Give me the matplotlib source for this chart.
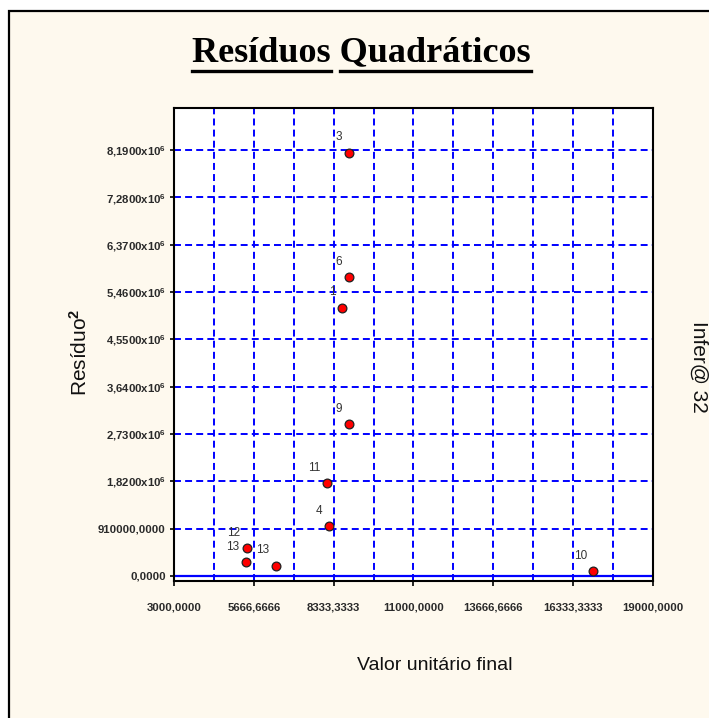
import matplotlib
matplotlib.use("Agg")
import numpy as np
import matplotlib.pyplot as plt
from matplotlib.patches import Rectangle
from matplotlib.lines import Line2D

plt.rcParams['font.family'] = ['Liberation Sans', 'DejaVu Sans']
plt.rcParams['mathtext.fontset'] = 'custom'
plt.rcParams['mathtext.rm'] = 'Liberation Sans:bold'
plt.rcParams['mathtext.it'] = 'Liberation Sans:italic'
plt.rcParams['mathtext.bf'] = 'Liberation Sans:bold'
plt.rcParams['lines.scale_dashes'] = False

# ---------------- data ----------------
point_labels = ["3", "6", "1", "9", "11", "4", "12", "13", "13", "10"]
valor_unitario = [8845, 8845, 8601, 8845, 8100, 8177, 5428, 5405, 6397, 17006]
residuo2 = [8.138e6, 5.741e6, 5.156e6, 2.918e6, 1.778e6, 0.956e6,
            0.527e6, 0.258e6, 0.192e6, 0.090e6]

x_ticks = [3000, 5666.6666, 8333.3333, 11000, 13666.6666, 16333.3333, 19000]
x_tick_labels = ["3000,0000", "5666,6666", "8333,3333", "11000,0000",
                 "13666,6666", "16333,3333", "19000,0000"]
y_ticks = [0, 910000, 1820000, 2730000, 3640000, 4550000,
           5460000, 6370000, 7280000, 8190000]
y_tick_labels = ["0,0000", "910000,0000",
                 r"1,8200x10$^{6}$", r"2,7300x10$^{6}$", r"3,6400x10$^{6}$",
                 r"4,5500x10$^{6}$", r"5,4600x10$^{6}$", r"6,3700x10$^{6}$",
                 r"7,2800x10$^{6}$", r"8,1900x10$^{6}$"]

title_words = ["Resíduos", "Quadráticos"]
x_label = "Valor unitário final"
y_label = r"Resíduo$^{2}$"
side_text = "Infer@ 32"

# ---------------- figure ----------------
W, H = 709, 718
fig = plt.figure(figsize=(W / 100, H / 100), dpi=100)
fig.patch.set_facecolor('white')
cream = '#FEF9EE'
fig.patches.append(Rectangle((9 / W, -0.2), 1.5, 1.2 - 11 / H,
                             transform=fig.transFigure, facecolor=cream,
                             edgecolor='black', lw=1.6, zorder=-10))

ax = fig.add_axes([174 / W, 1 - 581 / H, 479 / W, 473 / H])
ax.set_zorder(5)
ax.set_facecolor('white')
ax.set_xlim(3000, 19000)
ax.set_ylim(-0.1e6, 9.0e6)

blue = '#0000FF'
dash = (0, (5, 3))
xt = np.array(x_ticks)
x_grid = np.sort(np.concatenate([xt[1:-1], (xt[:-1] + xt[1:]) / 2]))
for xv in x_grid:
    ax.axvline(xv, color=blue, lw=1.4, ls=dash, zorder=1)
for yv in y_ticks[1:]:
    ax.axhline(yv, color=blue, lw=1.4, ls=dash, zorder=1)
ax.axhline(0, color=blue, lw=1.6, zorder=2)

ax.plot(valor_unitario, residuo2, 'o', ms=6.3, mfc='red', mec='#202020',
        mew=0.9, zorder=5)
for lbl, xv, yv in zip(point_labels, valor_unitario, residuo2):
    ax.annotate(lbl, (xv, yv), xytext=(-6.5, 15.5), textcoords='offset pixels',
                ha='right', va='center', fontsize=8.5, color='#333333', zorder=6)

for s in ax.spines.values():
    s.set_linewidth(1.5)
    s.set_color('black')

ax.set_xticks(x_ticks)
ax.set_xticklabels(x_tick_labels, fontsize=8.2, fontweight='bold', color='#2a2a2a')
ax.set_yticks(y_ticks)
ax.set_yticklabels(y_tick_labels, fontsize=8.2, fontweight='bold', color='#2a2a2a')
ax.tick_params(axis='x', direction='out', length=3.6, width=1.2, pad=12)
ax.tick_params(axis='y', direction='out', length=2.9, width=1.2, pad=3)

# axis labels and side text
fig.text(435 / W, 1 - 665 / H, x_label, ha='center', va='center',
         fontsize=14, color='#111111')
fig.text(80 / W, 1 - 352 / H, y_label, ha='center', va='center',
         rotation=90, fontsize=15, color='#111111')
fig.text(699 / W, 1 - 367 / H, side_text, ha='center', va='center',
         rotation=270, fontsize=15, color='#111111')

# title with underlined words
tprops = dict(fontfamily='Liberation Serif', fontweight='bold', fontsize=26,
              color='black', va='baseline')
full = " ".join(title_words)
t_full = fig.text(361.5 / W, 1 - 61 / H, full, ha='center', **tprops)
fig.canvas.draw()
r = fig.canvas.get_renderer()
bb = t_full.get_window_extent(r)
tmp1 = fig.text(0, 0, title_words[0], ha='left', **tprops)
tmp3 = fig.text(0, 0, title_words[0] + " " + title_words[0][0], ha='left', **tprops)
tmpX = fig.text(0, 0, title_words[0][0], ha='left', **tprops)
w1 = tmp1.get_window_extent(r).width
w3 = tmp3.get_window_extent(r).width
wx = tmpX.get_window_extent(r).width
start2 = w3 - wx
for t in (tmp1, tmp3, tmpX):
    t.remove()
uy = 1 - 71 / H
x0 = bb.x0 / W
fig.lines.append(Line2D([x0, x0 + w1 / W], [uy, uy], transform=fig.transFigure,
                        color='black', lw=2.4))
fig.lines.append(Line2D([x0 + start2 / W, bb.x1 / W], [uy, uy],
                        transform=fig.transFigure, color='black', lw=2.4))

fig.savefig('out.png', dpi=100)
